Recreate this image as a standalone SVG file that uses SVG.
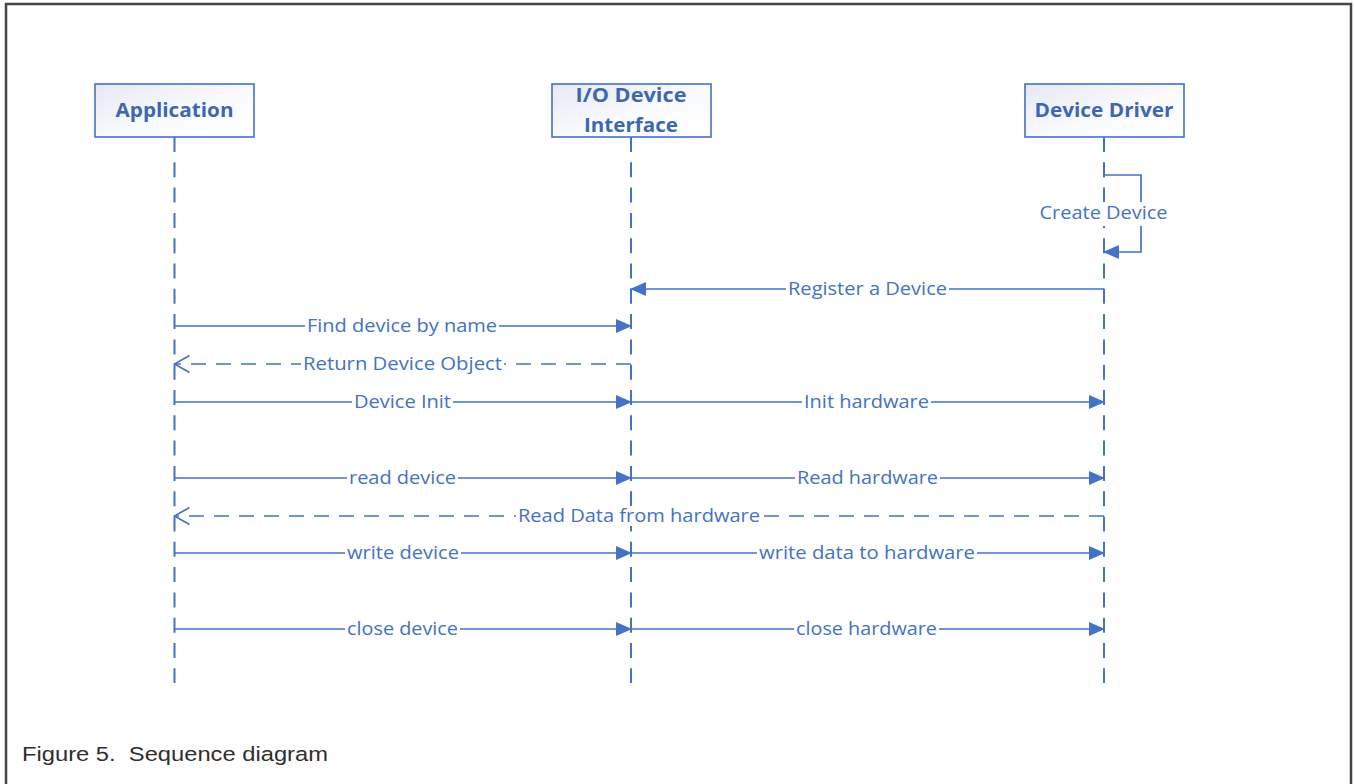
<svg xmlns="http://www.w3.org/2000/svg" width="1354" height="784" viewBox="0 0 1354 784">
  <defs>
    <linearGradient id="boxFill" x1="0" y1="0" x2="1" y2="1">
      <stop offset="0" stop-color="#E6E8F4"/>
      <stop offset="0.55" stop-color="#FAFBFE"/>
      <stop offset="1" stop-color="#FFFFFF"/>
    </linearGradient>
    <marker id="solidHead" markerUnits="userSpaceOnUse" markerWidth="16" markerHeight="14" viewBox="0 0 16 14" refX="15" refY="7" orient="auto">
      <path d="M0,0 L16,7 L0,14 Z" fill="#4472C4"/>
    </marker>
    <marker id="openHead" markerUnits="userSpaceOnUse" markerWidth="18" markerHeight="20" viewBox="0 0 18 20" refX="16" refY="10" orient="auto" overflow="visible">
      <polyline points="1,1.5 16,10 1,18.5" fill="none" stroke="#4472C4" stroke-width="1.6"/>
    </marker>
    <style>
      .frame { fill: none; stroke: #454545; stroke-width: 2.5; }
      .box { fill: url(#boxFill); stroke: #4472C4; stroke-width: 1.6; }
      .title { font-family: "Open Sans", "Liberation Sans", sans-serif; font-weight: bold; font-size: 20px; fill: #3F67B1; text-anchor: middle; }
      .life { stroke: #4472C4; stroke-width: 2; stroke-dasharray: 15 10.3; fill: none; }
      .msg { stroke: #4472C4; stroke-width: 1.7; fill: none; }
      .call { marker-end: url(#solidHead); }
      .reply { stroke-dasharray: 15 10; marker-end: url(#openHead); }
      .lbl { font-family: "Open Sans", "Liberation Sans", sans-serif; font-size: 18px; fill: #4472C4; text-anchor: middle; }
      .bg { fill: #FFFFFF; }
      .caption { font-family: "Liberation Sans", Arial, sans-serif; font-size: 20.5px; fill: #2E2E2E; }
    </style>
  </defs>

  <rect x="0" y="0" width="1354" height="784" fill="#FFFFFF"/>
  <!-- figure frame: open at the bottom -->
  <path class="frame" d="M6,784 L6,4 L1351,4 L1351,784"/>

  <!-- participants -->
  <g id="application">
    <rect class="box" x="95" y="84" width="159" height="53"/>
    <text class="title" x="174.5" y="117" textLength="118" lengthAdjust="spacingAndGlyphs">Application</text>
  </g>
  <g id="io-device-interface">
    <rect class="box" x="552" y="84" width="159" height="53"/>
    <text class="title" x="631" y="102" textLength="111" lengthAdjust="spacingAndGlyphs">I/O Device</text>
    <text class="title" x="631" y="132" textLength="94" lengthAdjust="spacingAndGlyphs">Interface</text>
  </g>
  <g id="device-driver">
    <rect class="box" x="1025" y="84" width="159" height="53"/>
    <text class="title" x="1104" y="117" textLength="139" lengthAdjust="spacingAndGlyphs">Device Driver</text>
  </g>

  <!-- lifelines -->
  <g id="lifelines">
    <line class="life" x1="174.5" y1="137" x2="174.5" y2="683"/>
    <line class="life" x1="631" y1="137" x2="631" y2="683"/>
    <line class="life" x1="1104" y1="137" x2="1104" y2="683"/>
  </g>

  <!-- messages -->
  <g id="connectors">
    <!-- self call on the driver -->
    <path class="msg call" d="M1104,175 L1141,175 L1141,252 L1104,252"/>
    <rect class="bg" x="1037" y="202" width="133" height="24"/>
    <text class="lbl" x="1103.5" y="219" textLength="128" lengthAdjust="spacingAndGlyphs">Create Device</text>

    <line class="msg call" x1="1104" y1="289" x2="631" y2="289"/>
    <rect class="bg" x="786" y="279" width="163" height="20"/>
    <text class="lbl" x="867.5" y="295" textLength="159" lengthAdjust="spacingAndGlyphs">Register a Device</text>

    <line class="msg call" x1="174.5" y1="326" x2="631" y2="326"/>
    <rect class="bg" x="305" y="316" width="194" height="20"/>
    <text class="lbl" x="402" y="332" textLength="190" lengthAdjust="spacingAndGlyphs">Find device by name</text>

    <line class="msg reply" x1="631" y1="364" x2="174.5" y2="364"/>
    <rect class="bg" x="301" y="354" width="203" height="20"/>
    <text class="lbl" x="402.5" y="370" textLength="199" lengthAdjust="spacingAndGlyphs">Return Device Object</text>

    <line class="msg call" x1="174.5" y1="402" x2="631" y2="402"/>
    <rect class="bg" x="352" y="392" width="101" height="20"/>
    <text class="lbl" x="402.5" y="408" textLength="97" lengthAdjust="spacingAndGlyphs">Device Init</text>

    <line class="msg call" x1="631" y1="402" x2="1104" y2="402"/>
    <rect class="bg" x="802" y="392" width="129" height="20"/>
    <text class="lbl" x="866.5" y="408" textLength="125" lengthAdjust="spacingAndGlyphs">Init hardware</text>

    <line class="msg call" x1="174.5" y1="478" x2="631" y2="478"/>
    <rect class="bg" x="347" y="468" width="111" height="20"/>
    <text class="lbl" x="402.5" y="484" textLength="107" lengthAdjust="spacingAndGlyphs">read device</text>

    <line class="msg call" x1="631" y1="478" x2="1104" y2="478"/>
    <rect class="bg" x="795" y="468" width="145" height="20"/>
    <text class="lbl" x="867.5" y="484" textLength="141" lengthAdjust="spacingAndGlyphs">Read hardware</text>

    <line class="msg reply" x1="1104" y1="516" x2="174.5" y2="516"/>
    <rect class="bg" x="516" y="506" width="246" height="20"/>
    <text class="lbl" x="639" y="522" textLength="242" lengthAdjust="spacingAndGlyphs">Read Data from hardware</text>

    <line class="msg call" x1="174.5" y1="553" x2="631" y2="553"/>
    <rect class="bg" x="345" y="543" width="116" height="20"/>
    <text class="lbl" x="403" y="559" textLength="112" lengthAdjust="spacingAndGlyphs">write device</text>

    <line class="msg call" x1="631" y1="553" x2="1104" y2="553"/>
    <rect class="bg" x="757" y="543" width="220" height="20"/>
    <text class="lbl" x="867" y="559" textLength="216" lengthAdjust="spacingAndGlyphs">write data to hardware</text>

    <line class="msg call" x1="174.5" y1="629" x2="631" y2="629"/>
    <rect class="bg" x="345" y="619" width="115" height="20"/>
    <text class="lbl" x="402.5" y="635" textLength="111" lengthAdjust="spacingAndGlyphs">close device</text>

    <line class="msg call" x1="631" y1="629" x2="1104" y2="629"/>
    <rect class="bg" x="794" y="619" width="145" height="20"/>
    <text class="lbl" x="866.5" y="635" textLength="141" lengthAdjust="spacingAndGlyphs">close hardware</text>
  </g>

  <text class="caption" x="22" y="761" xml:space="preserve" textLength="306" lengthAdjust="spacingAndGlyphs">Figure 5.  Sequence diagram</text>
</svg>
